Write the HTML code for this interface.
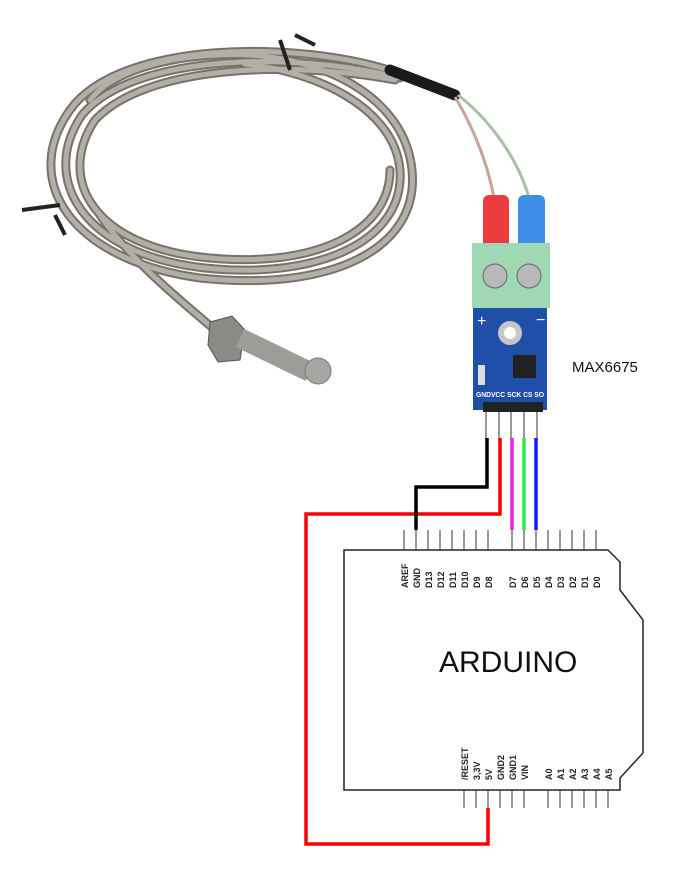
<!DOCTYPE html>
<html><head><meta charset="utf-8"><style>
html,body{margin:0;padding:0;background:#fff;}
svg{display:block}
text{font-family:"Liberation Sans",sans-serif;}
.pl{font-family:"Liberation Mono",monospace;font-size:9px;font-weight:bold;fill:#222}
</style></head><body>
<svg width="700" height="876" viewBox="0 0 700 876" xmlns="http://www.w3.org/2000/svg">
<g fill="none" stroke-linecap="round">
<g stroke="#77736b" stroke-width="9">
<path d="M395,72 C300,40 120,40 70,110 C20,180 70,260 200,278 C330,292 420,250 412,170 C405,100 330,60 250,55"/>
<path d="M400,78 C300,52 135,52 82,115 C38,180 85,255 205,268 C320,280 405,240 400,170 C395,110 320,72 245,64"/>
<path d="M395,80 C300,62 150,62 95,120 C55,180 95,248 210,258 C315,268 390,232 390,170"/>
<path d="M100,215 C130,260 180,300 215,330"/>
<path d="M250,55 C200,52 120,62 90,100"/>
</g>
<g stroke="#b2afa7" stroke-width="5">
<path d="M395,72 C300,40 120,40 70,110 C20,180 70,260 200,278 C330,292 420,250 412,170 C405,100 330,60 250,55"/>
<path d="M400,78 C300,52 135,52 82,115 C38,180 85,255 205,268 C320,280 405,240 400,170 C395,110 320,72 245,64"/>
<path d="M395,80 C300,62 150,62 95,120 C55,180 95,248 210,258 C315,268 390,232 390,170"/>
<path d="M100,215 C130,260 180,300 215,330"/>
<path d="M250,55 C200,52 120,62 90,100"/>
</g>
</g>
<path d="M280,40 L290,70 M295,35 L315,45 M22,210 L60,205 M55,215 L65,235" stroke="#222" stroke-width="4" fill="none"/>
<path d="M390,70 L455,95" stroke="#1a1a1a" stroke-width="11" stroke-linecap="round"/>
<path d="M455,97 C475,130 490,170 495,205" stroke="#c9a29a" stroke-width="3" fill="none"/>
<path d="M458,95 C490,120 520,160 531,205" stroke="#a9c0a6" stroke-width="3" fill="none"/>
<polygon points="210,322 232,316 245,330 240,360 218,362 208,345" fill="#8c8a86" stroke="#555" stroke-width="1"/>
<path d="M240,338 L310,372" stroke="#9e9c98" stroke-width="20" stroke-linecap="butt"/>
<circle cx="318" cy="371" r="13" fill="#a8a6a2" stroke="#777"/>
<rect x="483" y="195" width="26" height="55" rx="6" fill="#ec3b3f"/>
<rect x="518" y="195" width="27" height="55" rx="6" fill="#3e8ee8"/>
<rect x="472" y="243" width="78" height="65" fill="#9fd8b2"/>
<circle cx="495" cy="276" r="12" fill="#b8b8b8" stroke="#666"/>
<circle cx="529" cy="276" r="12" fill="#b8b8b8" stroke="#666"/>
<rect x="473" y="308" width="74" height="102" fill="#1f4fa8"/>
<text x="477" y="326" fill="#fff" font-size="16">+</text>
<text x="536" y="325" fill="#fff" font-size="16">−</text>
<circle cx="510" cy="333" r="12" fill="#c6c6c6"/><circle cx="510" cy="333" r="6" fill="#fff"/>
<rect x="513" y="355" width="23" height="23" fill="#222"/>
<rect x="478" y="365" width="7" height="20" fill="#ddd"/>
<text x="476" y="397" fill="#fff" font-size="7" font-weight="bold" textLength="68" lengthAdjust="spacingAndGlyphs">GNDVCC SCK CS SO</text>
<rect x="483" y="402" width="60" height="10" fill="#222"/>
<g stroke="#777" stroke-width="1.5"><path d="M486,412V440M499,412V440M511,412V440M524,412V440M537,412V440"/></g>
<text x="572" y="372" font-size="15" fill="#111">MAX6675</text>
<path d="M344,550 H608 L620,562 V590 L643,620 V753 L620,778 V790 H344 Z" fill="#fff" stroke="#222" stroke-width="1.5"/>
<g stroke="#333" stroke-width="1">
<path d="M404,530V550M416,530V550M428,530V550M440,530V550M452,530V550M464,530V550M476,530V550M488,530V550M512,530V550M524,530V550M536,530V550M548,530V550M560,530V550M572,530V550M584,530V550M596,530V550"/>
<path d="M464,790V808M476,790V808M488,790V808M500,790V808M512,790V808M524,790V808M548,790V808M560,790V808M572,790V808M584,790V808M596,790V808M608,790V808"/>
</g>
<g class="pl">
<text transform="translate(408,588) rotate(-90)">AREF</text>
<text transform="translate(420,588) rotate(-90)">GND</text>
<text transform="translate(432,588) rotate(-90)">D13</text>
<text transform="translate(444,588) rotate(-90)">D12</text>
<text transform="translate(456,588) rotate(-90)">D11</text>
<text transform="translate(468,588) rotate(-90)">D10</text>
<text transform="translate(480,588) rotate(-90)">D9</text>
<text transform="translate(492,588) rotate(-90)">D8</text>
<text transform="translate(516,588) rotate(-90)">D7</text>
<text transform="translate(528,588) rotate(-90)">D6</text>
<text transform="translate(540,588) rotate(-90)">D5</text>
<text transform="translate(552,588) rotate(-90)">D4</text>
<text transform="translate(564,588) rotate(-90)">D3</text>
<text transform="translate(576,588) rotate(-90)">D2</text>
<text transform="translate(588,588) rotate(-90)">D1</text>
<text transform="translate(600,588) rotate(-90)">D0</text>
<text transform="translate(468,780) rotate(-90)">/RESET</text>
<text transform="translate(480,780) rotate(-90)">3,3V</text>
<text transform="translate(492,780) rotate(-90)">5V</text>
<text transform="translate(504,780) rotate(-90)">GND2</text>
<text transform="translate(516,780) rotate(-90)">GND1</text>
<text transform="translate(528,780) rotate(-90)">VIN</text>
<text transform="translate(552,780) rotate(-90)">A0</text>
<text transform="translate(564,780) rotate(-90)">A1</text>
<text transform="translate(576,780) rotate(-90)">A2</text>
<text transform="translate(588,780) rotate(-90)">A3</text>
<text transform="translate(600,780) rotate(-90)">A4</text>
<text transform="translate(612,780) rotate(-90)">A5</text>
</g>
<text x="439" y="672" font-size="30" fill="#111">ARDUINO</text>
<g fill="none" stroke-width="3.5">
<path d="M488,808 V844 H306 V514 H500 V438" stroke="#f00"/>
<path d="M416,530 V487 H487 V438" stroke="#000"/>
<path d="M512,438 V530" stroke="#ee22ee"/>
<path d="M524,438 V530" stroke="#22ee44"/>
<path d="M536,438 V530" stroke="#1020ff"/>
</g>
</svg>
</body></html>
